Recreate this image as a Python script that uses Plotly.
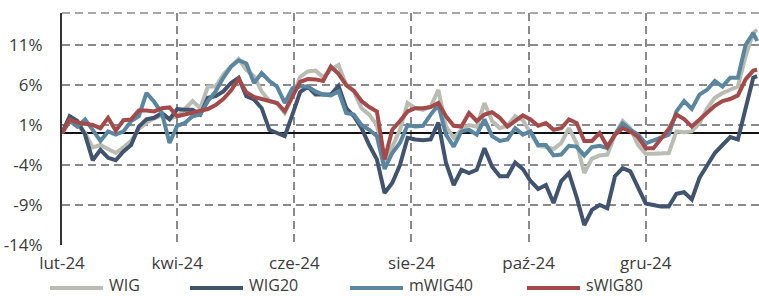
import plotly.graph_objects as go
import pandas as pd

# ---- data -------------------------------------------------------------
dates = list(pd.date_range("2024-02-01", periods=91, freq="4D")) + [pd.Timestamp("2025-01-28")]

wig = [0, 1.5, 1.0, 0.0, -1.8, -1.5, -2.0, -2.5, -1.8, -1.0,
       0.5, 1.3, 1.8, 2.2, 1.8, 2.1, 3.0, 4.0, 3.1, 5.8,
       5.8, 7.3, 8.3, 9.25, 7.9, 7.1, 5.2, 4.0, 3.75, 2.5,
       4.5, 7.0, 7.7, 7.8, 7.0, 7.9, 8.5, 6.0, 5.2, 3.1,
       2.3, 1.0, -3.8, -1.7, 0.4, 3.75, 3.1, 2.9, 3.3, 5.4,
       0.8, -0.6, 0.4, 1.0, 0.8, 3.75, 1.5, 0.6, 0.9, 2.1,
       1.6, 0.0, -1.6, -1.75, -2.0, -1.25, 0.6, -1.25, -5.0, -3.2,
       -2.8, -2.7, -0.2, 1.5, 0.6, -1.5, -2.6, -2.6, -2.5, -2.5,
       0.2, 0.1, 0.2, 1.25, 3.1, 4.4, 5.0, 5.4, 5.8, 9.6,
       12.5, 12.9]

wig20 = [0, 2.1, 1.5, -0.2, -3.4, -2.1, -3.1, -3.4, -2.3, -1.5,
         0.8, 1.7, 1.9, 2.5, 1.7, 3.0, 2.9, 2.9, 2.3, 4.4,
         4.6, 5.2, 6.25, 6.9, 4.6, 4.2, 3.1, 0.4, 0.0, -0.4,
         2.3, 5.1, 5.8, 4.8, 4.8, 4.8, 5.9, 3.1, 2.1, 0.6,
         -1.5, -3.3, -7.5, -6.25, -4.0, -0.6, -0.8, -0.9, -0.8, 1.3,
         -3.75, -6.5, -4.6, -5.0, -4.6, -1.9, -4.2, -5.4, -5.4, -3.7,
         -4.5, -6.0, -7.0, -6.5, -8.75, -6.0, -5.0, -8.0, -11.5, -9.6,
         -9.0, -9.4, -5.4, -4.4, -4.8, -6.8, -8.8, -9.0, -9.2, -9.2,
         -7.6, -7.4, -8.3, -5.6, -4.0, -2.5, -1.5, -0.5, -0.8, 2.9,
         6.9, 7.1]

mwig40 = [0, 1.5, 0.8, 1.7, 0.4, -1.0, 0.2, -0.2, 0.2, 1.5,
          2.1, 5.0, 3.9, 2.5, -1.25, 0.9, 1.25, 2.1, 2.3, 4.0,
          5.2, 6.9, 8.3, 9.1, 8.7, 6.25, 7.5, 6.5, 5.8, 3.75,
          5.6, 5.8, 5.8, 5.2, 4.8, 4.7, 5.2, 2.5, 2.3, 1.0,
          0.4, -0.4, -4.5, -2.5, -1.25, 1.0, 0.8, 0.9, 2.3, 3.5,
          -0.2, -1.7, 0.2, 0.4, -0.2, 1.7, -0.4, -1.0, -0.8, 0.6,
          -0.2, 0.2, -1.5, -1.5, -2.8, -2.7, -1.6, -1.7, -2.8, -1.75,
          -1.6, -1.9, -0.2, 1.2, 0.4, -0.2, -1.3, -0.9, -0.5, -0.2,
          2.7, 4.0, 3.0, 4.8, 5.4, 6.5, 5.8, 6.9, 6.9, 11.0,
          12.5, 11.5]

swig80 = [0, 1.7, 1.3, 1.2, 1.0, 0.6, 1.9, 0.3, 1.6, 1.7,
          2.8, 2.8, 2.7, 3.1, 3.2, 2.1, 2.3, 2.5, 2.7, 3.0,
          3.5, 4.25, 5.3, 6.75, 5.1, 4.5, 4.25, 4.0, 3.75, 2.7,
          4.5, 6.4, 6.75, 6.7, 6.5, 8.3, 7.4, 6.0, 5.3, 4.0,
          3.25, 2.7, -3.3, 0.4, 1.5, 2.7, 3.1, 3.1, 3.25, 3.75,
          2.1, 0.9, 0.8, 2.5, 1.5, 2.3, 2.6, 1.9, 0.8, 1.5,
          2.2, 1.7, 0.9, 1.25, 0.4, 0.6, 1.7, 1.25, -1.0, -1.0,
          0.0, -1.7, -0.2, 0.6, 0.2, -0.5, -1.9, -1.9, -0.6, 0.5,
          2.3, 1.75, 0.8, 1.7, 2.6, 3.4, 4.0, 4.25, 4.7, 6.7,
          7.8, 7.9]

series_names = ["WIG", "WIG20", "mWIG40", "sWIG80"]
series_values = [wig, wig20, mwig40, swig80]

x_tick_dates = ["2024-02-01", "2024-04-01", "2024-06-01", "2024-08-01", "2024-10-01", "2024-12-01"]
x_tick_labels = ["lut-24", "kwi-24", "cze-24", "sie-24", "paź-24", "gru-24"]
y_tick_values = [-14, -9, -4, 1, 6, 11]
y_tick_labels = ["-14%", "-9%", "-4%", "1%", "6%", "11%"]

# ---- style --------------------------------------------------------------
colors = ["#b9bcb2", "#41536d", "#5a879f", "#a34b4b"]
W, H = 759, 296
PL, PR, PT, PB = 62, 759, 13, 245
FONT = "Open Sans"
TXT = "#3c3c3c"
GRID = "#8a8a8a"

def px_x(p):
    return (p - PL) / (PR - PL)

def px_y(p):
    return (PB - p) / (PB - PT)

fig = go.Figure()
for name, vals, col in zip(series_names, series_values, colors):
    fig.add_trace(go.Scatter(x=dates, y=vals, name=name, mode="lines",
                             line=dict(color=col, width=4), showlegend=False))

# manual legend (line sample + text)
legend_starts = [50, 190, 350, 527]
legend_len = 53
legend_line_y = 288
legend_text_y = 285
shapes = []
annotations = []
for name, col, x0 in zip(series_names, colors, legend_starts):
    shapes.append(dict(type="line", xref="paper", yref="paper",
                       x0=px_x(x0), x1=px_x(x0 + legend_len),
                       y0=px_y(legend_line_y), y1=px_y(legend_line_y),
                       line=dict(color=col, width=4)))
    annotations.append(dict(xref="paper", yref="paper", x=px_x(x0 + legend_len + 4),
                            y=px_y(legend_text_y), text=name, showarrow=False,
                            xanchor="left", yanchor="middle",
                            font=dict(family=FONT, size=16, color=TXT)))

# top border (dashed)
shapes.append(dict(type="line", xref="paper", yref="paper", x0=0, x1=1, y0=1, y1=1,
                   line=dict(color=GRID, width=1.5, dash="8px,5px"), layer="below"))

fig.update_layout(
    width=W, height=H,
    margin=dict(l=PL, r=W - PR, t=PT, b=H - PB),
    paper_bgcolor="white", plot_bgcolor="white",
    font=dict(family=FONT, size=17, color=TXT),
    shapes=shapes, annotations=annotations,
    xaxis=dict(type="date", range=["2024-02-01", "2025-01-29"],
               tickvals=x_tick_dates, ticktext=x_tick_labels,
               showgrid=True, gridcolor=GRID, gridwidth=1.5, griddash="8px,5px",
               showline=False, zeroline=False, ticks="", ticklabelstandoff=6,
               tickfont=dict(family=FONT, size=17, color=TXT)),
    yaxis=dict(range=[-14, 15], tickvals=y_tick_values, ticktext=y_tick_labels,
               showgrid=True, gridcolor=GRID, gridwidth=1.5, griddash="8px,5px",
               zeroline=True, zerolinecolor="#111111", zerolinewidth=2,
               showline=True, linecolor="#333333", linewidth=2,
               ticks="", ticklabelstandoff=14,
               tickfont=dict(family=FONT, size=17, color=TXT)),
)

fig.write_html("out.html", config={"displayModeBar": False},
               post_script="document.body.style.margin='0';")
